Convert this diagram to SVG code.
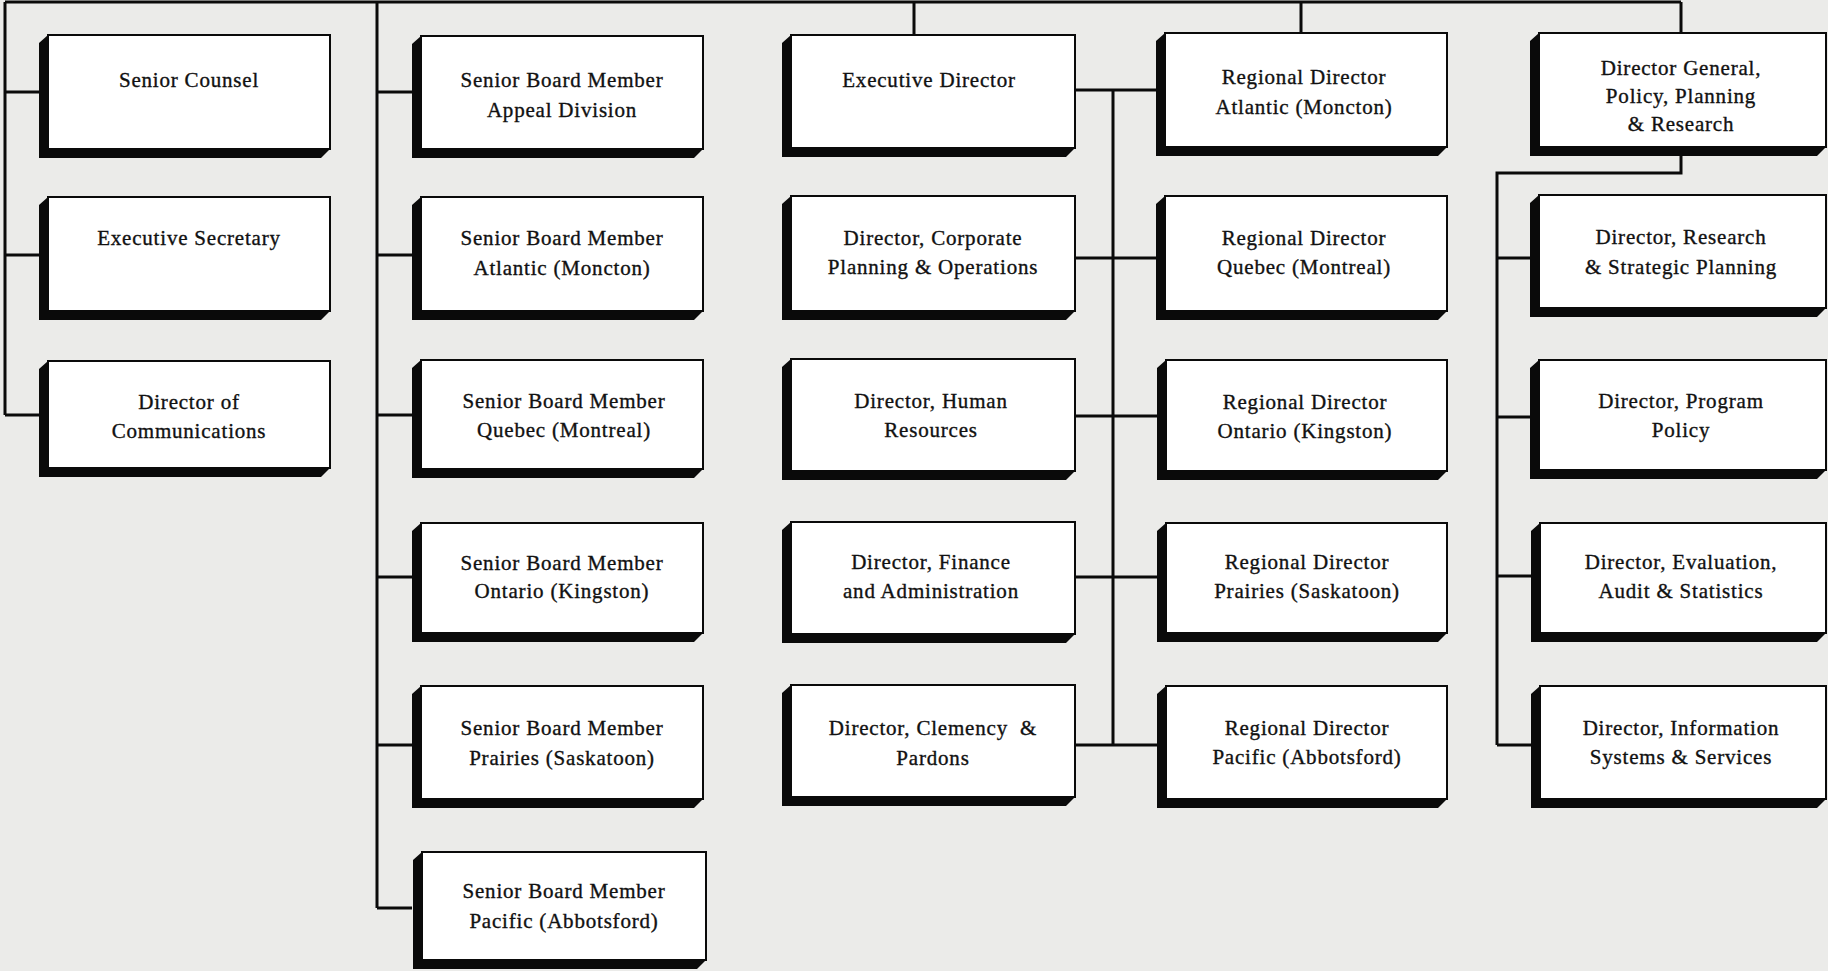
<svg xmlns="http://www.w3.org/2000/svg" width="1828" height="971" viewBox="0 0 1828 971">
<style>
.bg{fill:#ebebe9}
.sh{fill:#0a0a0a}
.bx{fill:#ffffff;stroke:#0a0a0a;stroke-width:2}
.t{font-family:"Liberation Serif","DejaVu Serif",serif;font-size:21px;letter-spacing:0.8px;fill:#111;stroke:#111;stroke-width:0.35px;text-anchor:middle}
.c{fill:none;stroke:#0a0a0a;stroke-width:3}
</style>
<rect class="bg" x="0" y="0" width="1828" height="971"/>
<g id="connectors">
<path class="c" d="M5,2 H1681"/>
<path class="c" d="M5,2 V415 M5,92 H40 M5,255 H40 M5,415 H40"/>
<path class="c" d="M377,2 V908 M377,92 H412 M377,255 H412 M377,415 H412 M377,577 H412 M377,745 H412 M377,908 H412"/>
<path class="c" d="M914,2 V35 M1301,2 V33 M1681,2 V33"/>
<path class="c" d="M1113,90 V745 M1075,90 H1157 M1075,258 H1157 M1075,416 H1157 M1075,577 H1157 M1075,745 H1157"/>
<path class="c" d="M1681,156 V173 H1497 V745 M1497,258 H1531 M1497,417 H1531 M1497,576 H1531 M1497,745 H1531"/>
</g>
<g id="senior-counsel"><polygon class="sh" points="48,35 39,43 39,158 321,158 330,149"/><rect class="bx" x="48" y="35" width="282" height="114"/><text class="t" x="189" y="87">Senior Counsel</text></g>
<g id="executive-secretary"><polygon class="sh" points="48,197 39,205 39,320 321,320 330,311"/><rect class="bx" x="48" y="197" width="282" height="114"/><text class="t" x="189" y="245">Executive Secretary</text></g>
<g id="director-communications"><polygon class="sh" points="48,361 39,369 39,477 321,477 330,468"/><rect class="bx" x="48" y="361" width="282" height="107"/><text class="t" x="189" y="409">Director of</text><text class="t" x="189" y="438">Communications</text></g>
<g id="sbm-appeal"><polygon class="sh" points="421,36 412,44 412,158 694,158 703,149"/><rect class="bx" x="421" y="36" width="282" height="113"/><text class="t" x="562" y="87">Senior Board Member</text><text class="t" x="562" y="117">Appeal Division</text></g>
<g id="sbm-atlantic"><polygon class="sh" points="421,197 412,205 412,320 694,320 703,311"/><rect class="bx" x="421" y="197" width="282" height="114"/><text class="t" x="562" y="245">Senior Board Member</text><text class="t" x="562" y="275">Atlantic (Moncton)</text></g>
<g id="sbm-quebec"><polygon class="sh" points="421,360 412,368 412,478 694,478 703,469"/><rect class="bx" x="421" y="360" width="282" height="109"/><text class="t" x="564" y="408">Senior Board Member</text><text class="t" x="564" y="437">Quebec (Montreal)</text></g>
<g id="sbm-ontario"><polygon class="sh" points="421,523 412,531 412,642 694,642 703,633"/><rect class="bx" x="421" y="523" width="282" height="110"/><text class="t" x="562" y="570">Senior Board Member</text><text class="t" x="562" y="598">Ontario (Kingston)</text></g>
<g id="sbm-prairies"><polygon class="sh" points="421,686 412,694 412,808 694,808 703,799"/><rect class="bx" x="421" y="686" width="282" height="113"/><text class="t" x="562" y="735">Senior Board Member</text><text class="t" x="562" y="765">Prairies (Saskatoon)</text></g>
<g id="sbm-pacific"><polygon class="sh" points="422,852 413,860 413,969 697,969 706,960"/><rect class="bx" x="422" y="852" width="284" height="108"/><text class="t" x="564" y="898">Senior Board Member</text><text class="t" x="564" y="928">Pacific (Abbotsford)</text></g>
<g id="executive-director"><polygon class="sh" points="791,35 782,43 782,157 1066,157 1075,148"/><rect class="bx" x="791" y="35" width="284" height="113"/><text class="t" x="929" y="87">Executive Director</text></g>
<g id="dir-corporate"><polygon class="sh" points="791,196 782,204 782,320 1066,320 1075,311"/><rect class="bx" x="791" y="196" width="284" height="115"/><text class="t" x="933" y="245">Director, Corporate</text><text class="t" x="933" y="274">Planning &amp; Operations</text></g>
<g id="dir-hr"><polygon class="sh" points="791,359 782,367 782,480 1066,480 1075,471"/><rect class="bx" x="791" y="359" width="284" height="112"/><text class="t" x="931" y="408">Director, Human</text><text class="t" x="931" y="437">Resources</text></g>
<g id="dir-finance"><polygon class="sh" points="791,522 782,530 782,643 1066,643 1075,634"/><rect class="bx" x="791" y="522" width="284" height="112"/><text class="t" x="931" y="569">Director, Finance</text><text class="t" x="931" y="598">and Administration</text></g>
<g id="dir-clemency"><polygon class="sh" points="791,685 782,693 782,806 1066,806 1075,797"/><rect class="bx" x="791" y="685" width="284" height="112"/><text class="t" x="933" y="735" xml:space="preserve">Director, Clemency  &amp;</text><text class="t" x="933" y="765">Pardons</text></g>
<g id="rd-atlantic"><polygon class="sh" points="1165,33 1156,41 1156,156 1438,156 1447,147"/><rect class="bx" x="1165" y="33" width="282" height="114"/><text class="t" x="1304" y="84">Regional Director</text><text class="t" x="1304" y="114">Atlantic (Moncton)</text></g>
<g id="rd-quebec"><polygon class="sh" points="1165,196 1156,204 1156,320 1438,320 1447,311"/><rect class="bx" x="1165" y="196" width="282" height="115"/><text class="t" x="1304" y="245">Regional Director</text><text class="t" x="1304" y="274">Quebec (Montreal)</text></g>
<g id="rd-ontario"><polygon class="sh" points="1166,360 1157,368 1157,480 1438,480 1447,471"/><rect class="bx" x="1166" y="360" width="281" height="111"/><text class="t" x="1305" y="409">Regional Director</text><text class="t" x="1305" y="438">Ontario (Kingston)</text></g>
<g id="rd-prairies"><polygon class="sh" points="1166,523 1157,531 1157,642 1438,642 1447,633"/><rect class="bx" x="1166" y="523" width="281" height="110"/><text class="t" x="1307" y="569">Regional Director</text><text class="t" x="1307" y="598">Prairies (Saskatoon)</text></g>
<g id="rd-pacific"><polygon class="sh" points="1166,686 1157,694 1157,808 1438,808 1447,799"/><rect class="bx" x="1166" y="686" width="281" height="113"/><text class="t" x="1307" y="735">Regional Director</text><text class="t" x="1307" y="764">Pacific (Abbotsford)</text></g>
<g id="dg-policy"><polygon class="sh" points="1539,33 1530,41 1530,156 1817,156 1826,147"/><rect class="bx" x="1539" y="33" width="287" height="114"/><text class="t" x="1681" y="75">Director General,</text><text class="t" x="1681" y="103">Policy, Planning</text><text class="t" x="1681" y="131">&amp; Research</text></g>
<g id="dir-research"><polygon class="sh" points="1539,195 1530,203 1530,317 1817,317 1826,308"/><rect class="bx" x="1539" y="195" width="287" height="113"/><text class="t" x="1681" y="244">Director, Research</text><text class="t" x="1681" y="274">&amp; Strategic Planning</text></g>
<g id="dir-program"><polygon class="sh" points="1539,360 1530,368 1530,479 1817,479 1826,470"/><rect class="bx" x="1539" y="360" width="287" height="110"/><text class="t" x="1681" y="408">Director, Program</text><text class="t" x="1681" y="437">Policy</text></g>
<g id="dir-evaluation"><polygon class="sh" points="1540,523 1531,531 1531,642 1817,642 1826,633"/><rect class="bx" x="1540" y="523" width="286" height="110"/><text class="t" x="1681" y="569">Director, Evaluation,</text><text class="t" x="1681" y="598">Audit &amp; Statistics</text></g>
<g id="dir-infosys"><polygon class="sh" points="1540,686 1531,694 1531,808 1817,808 1826,799"/><rect class="bx" x="1540" y="686" width="286" height="113"/><text class="t" x="1681" y="735">Director, Information</text><text class="t" x="1681" y="764">Systems &amp; Services</text></g>
</svg>
